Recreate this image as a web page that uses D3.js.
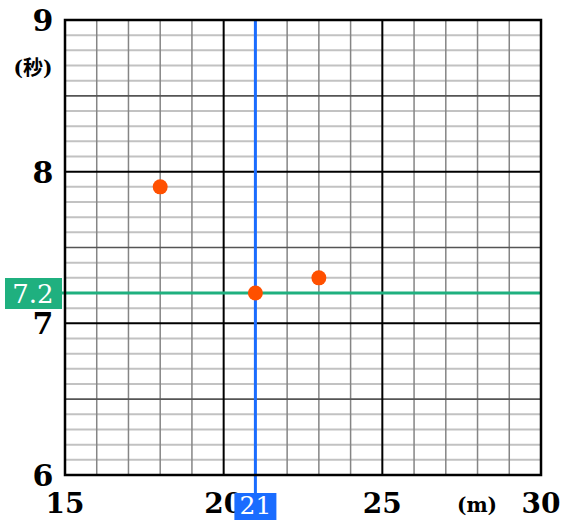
<!DOCTYPE html>
<html>
<head>
<meta charset="utf-8">
<script src="https://cdn.jsdelivr.net/npm/d3@7"></script>
<style>
  html, body { margin: 0; padding: 0; background: #fff; }
  svg { display: block; }
</style>
</head>
<body>
<svg id="chart" width="563" height="520"></svg>
<script>
// Distance (m) vs time (s) measurements
const distances = [18, 21, 23];
const times = [7.9, 7.2, 7.3];

const xTicks = [15, 20, 25, 30];
const yTicks = [6, 7, 8, 9];
const xDomain = [15, 30];
const yDomain = [6, 9];

// Reference lines
const refX = 21;
const refY = 7.2;

const xUnit = "(m)";
const yUnit = "(秒)";

const svg = d3.select("#chart");
const plotLeft = 65, plotRight = 541, plotTop = 20, plotBottom = 475;

const x = d3.scaleLinear().domain(xDomain).range([plotLeft, plotRight]);
const y = d3.scaleLinear().domain(yDomain).range([plotBottom, plotTop]);

const serif = "'DejaVu Serif', serif";

// Horizontal grid: every 0.1 s, darker at 0.5 s, black at whole seconds
const hSteps = d3.range(Math.round((yDomain[1] - yDomain[0]) * 10) + 1)
  .map(i => +(yDomain[0] + i * 0.1).toFixed(1));
const grid = svg.append("g");
grid.append("g").selectAll("line")
  .data(hSteps.filter(v => Math.round(v * 10) % 5 !== 0))
  .join("line")
  .attr("x1", plotLeft).attr("x2", plotRight)
  .attr("y1", d => y(d)).attr("y2", d => y(d))
  .attr("stroke", "#c2c2c2").attr("stroke-width", 2);

// Vertical grid: every metre
grid.append("g").selectAll("line")
  .data(d3.range(xDomain[0], xDomain[1] + 1).filter(v => v % 5 !== 0))
  .join("line")
  .attr("x1", d => x(d)).attr("x2", d => x(d))
  .attr("y1", plotTop).attr("y2", plotBottom)
  .attr("stroke", "#858585").attr("stroke-width", 1.5);

grid.append("g").selectAll("line")
  .data(hSteps.filter(v => Math.round(v * 10) % 10 === 5))
  .join("line")
  .attr("x1", plotLeft).attr("x2", plotRight)
  .attr("y1", d => y(d)).attr("y2", d => y(d))
  .attr("stroke", "#555").attr("stroke-width", 1.6);

// Major lines
grid.append("g").selectAll("line")
  .data(xTicks)
  .join("line")
  .attr("x1", d => x(d)).attr("x2", d => x(d))
  .attr("y1", plotTop).attr("y2", plotBottom)
  .attr("stroke", "#000").attr("stroke-width", 2);
grid.append("g").selectAll("line")
  .data(yTicks)
  .join("line")
  .attr("x1", plotLeft).attr("x2", plotRight)
  .attr("y1", d => y(d)).attr("y2", d => y(d))
  .attr("stroke", "#000").attr("stroke-width", 2);

// Tick labels
svg.append("g").selectAll("text")
  .data(yTicks)
  .join("text")
  .attr("x", 43).attr("y", d => y(d) + 11)
  .attr("text-anchor", "middle")
  .attr("font-family", serif).attr("font-weight", "bold").attr("font-size", 30)
  .text(d => d);

svg.append("g").selectAll("text")
  .data(xTicks)
  .join("text")
  .attr("x", d => x(d)).attr("y", 513)
  .attr("text-anchor", "middle")
  .attr("font-family", serif).attr("font-weight", "bold").attr("font-size", 28)
  .text(d => d);

// Units
svg.append("text")
  .attr("x", 477).attr("y", 512)
  .attr("text-anchor", "middle")
  .attr("font-family", serif).attr("font-weight", "bold").attr("font-size", 20)
  .text(xUnit);
svg.append("text")
  .attr("x", 33).attr("y", 75)
  .attr("text-anchor", "middle")
  .attr("font-family", "'DejaVu Serif', 'Noto Sans CJK JP', serif")
  .attr("font-weight", "bold").attr("font-size", 20)
  .text(yUnit);

// Reference line at y = 7.2 with label
svg.append("line")
  .attr("x1", 60).attr("x2", plotRight)
  .attr("y1", y(refY)).attr("y2", y(refY))
  .attr("stroke", "#1fb07f").attr("stroke-width", 3);
svg.append("rect")
  .attr("x", 5).attr("y", y(refY) - 15).attr("width", 57).attr("height", 31)
  .attr("fill", "#1fb07f");
svg.append("text")
  .attr("x", 33).attr("y", y(refY) + 10)
  .attr("text-anchor", "middle")
  .attr("font-family", serif).attr("font-size", 26).attr("fill", "#fff")
  .text(refY);

// Reference line at x = 21 with label
svg.append("line")
  .attr("x1", x(refX)).attr("x2", x(refX))
  .attr("y1", plotTop).attr("y2", 495)
  .attr("stroke", "#1a6cff").attr("stroke-width", 3);
svg.append("rect")
  .attr("x", x(refX) - 21).attr("y", 493).attr("width", 42).attr("height", 27)
  .attr("fill", "#1a6cff");
svg.append("text")
  .attr("x", x(refX)).attr("y", 514)
  .attr("text-anchor", "middle")
  .attr("font-family", serif).attr("font-size", 25).attr("fill", "#fff")
  .text(refX);

// Frame
svg.append("rect")
  .attr("x", plotLeft).attr("y", plotTop)
  .attr("width", plotRight - plotLeft).attr("height", plotBottom - plotTop)
  .attr("fill", "none").attr("stroke", "#000").attr("stroke-width", 2.5);

// Data points
svg.append("g").selectAll("circle")
  .data(distances.map((d, i) => [d, times[i]]))
  .join("circle")
  .attr("cx", d => x(d[0])).attr("cy", d => y(d[1]))
  .attr("r", 7.5)
  .attr("fill", "#ff5000");
</script>
</body>
</html>
